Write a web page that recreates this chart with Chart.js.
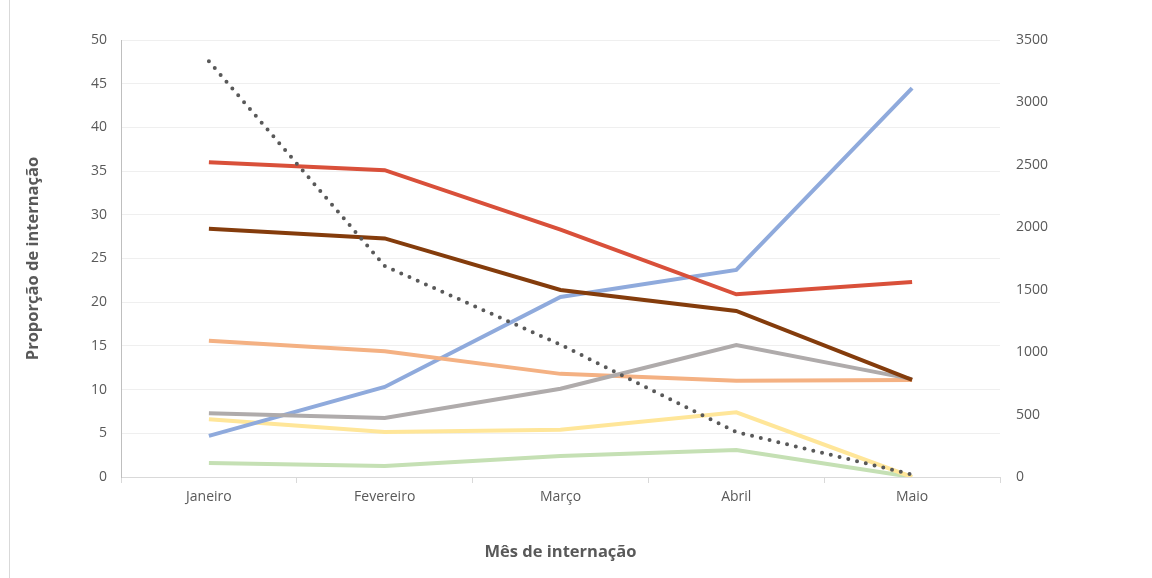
<!DOCTYPE html>
<html>
<head>
<meta charset="utf-8">
<script src="https://cdn.jsdelivr.net/npm/chart.js@4.4.0/dist/chart.umd.min.js"></script>
<style>
  html, body { margin: 0; padding: 0; background: #fff; }
  #wrap { position: relative; width: 1152px; height: 578px; }
  #frame { position: absolute; left: 9px; top: 0; width: 1px; height: 578px; background: #d9d9d9; }
</style>
</head>
<body>
<div id="wrap">
  <div id="frame"></div>
  <canvas id="chart" width="1152" height="578"></canvas>
</div>
<script>
// Meses de internação
const months = ["Janeiro", "Fevereiro", "Março", "Abril", "Maio"];

// Proporção de internação (eixo esquerdo)
const redSeries = [36.0, 35.1, 28.3, 20.9, 22.3];
const brownSeries = [28.4, 27.3, 21.4, 19.0, 11.1];
const blueSeries = [4.7, 10.3, 20.6, 23.7, 44.5];
const peachSeries = [15.6, 14.4, 11.8, 11.0, 11.1];
const graySeries = [7.3, 6.75, 10.1, 15.1, 11.2];
const yellowSeries = [6.6, 5.15, 5.4, 7.4, 0];
const greenSeries = [1.6, 1.26, 2.4, 3.1, 0];

// Total de internações (eixo direito, linha pontilhada)
const totalSeries = [3330, 1690, 1060, 360, 20];

const font = "'Open Sans', sans-serif";
Chart.defaults.font.family = font;
Chart.defaults.color = "#595959";

function line(data, color) {
  return {
    data: data,
    borderColor: color,
    backgroundColor: color,
    borderWidth: 4,
    pointRadius: 0,
    tension: 0,
    yAxisID: "y",
  };
}

const ctx = document.getElementById("chart").getContext("2d");
new Chart(ctx, {
  type: "line",
  data: {
    labels: months,
    datasets: [
      {
        data: totalSeries,
        borderColor: "#595959",
        borderWidth: 4,
        borderDash: [0, 9],
        borderCapStyle: "round",
        pointRadius: 0,
        tension: 0,
        yAxisID: "y1",
      },
      line(brownSeries, "#843C0C"),
      line(redSeries, "#D9503A"),
      line(graySeries, "#AFABAB"),
      line(peachSeries, "#F4B183"),
      line(blueSeries, "#8FAADC"),
      line(yellowSeries, "#FFE699"),
      line(greenSeries, "#C5E0B4"),
    ],
  },
  options: {
    responsive: false,
    animation: false,
    layout: {
      padding: { top: 40, left: 0, right: 0, bottom: 0 },
    },
    plugins: {
      legend: { display: false },
      tooltip: { enabled: false },
    },
    scales: {
      x: {
        offset: true,
        grid: {
          offset: true,
          drawOnChartArea: false,
          drawTicks: true,
          tickLength: 6,
          color: "#d9d9d9",
        },
        border: { display: true, color: "#d9d9d9" },
        ticks: { font: { size: 14 }, padding: 6 },
        title: {
          display: true,
          text: "Mês de internação",
          font: { size: 16.5, weight: "bold" },
          padding: { top: 0, bottom: 16 },
        },
        afterFit: (s) => { s.height = 101; },
      },
      y: {
        position: "left",
        min: 0,
        max: 50,
        ticks: { stepSize: 5, font: { size: 14 }, padding: 14 },
        grid: { color: "#efefef", drawTicks: false },
        border: { display: true, color: "#bfbfbf" },
        title: {
          display: true,
          text: "Proporção de internação",
          font: { size: 16.5, weight: "bold" },
          padding: { top: 23, bottom: 0 },
        },
        afterFit: (s) => { s.width = 121; },
      },
      y1: {
        position: "right",
        min: 0,
        max: 3500,
        ticks: {
          stepSize: 500,
          font: { size: 14 },
          padding: 16,
          callback: (v) => String(v),
        },
        grid: { drawOnChartArea: false, drawTicks: false },
        border: { display: false },
        afterFit: (s) => { s.width = 152; },
      },
    },
  },
});
</script>
</body>
</html>
